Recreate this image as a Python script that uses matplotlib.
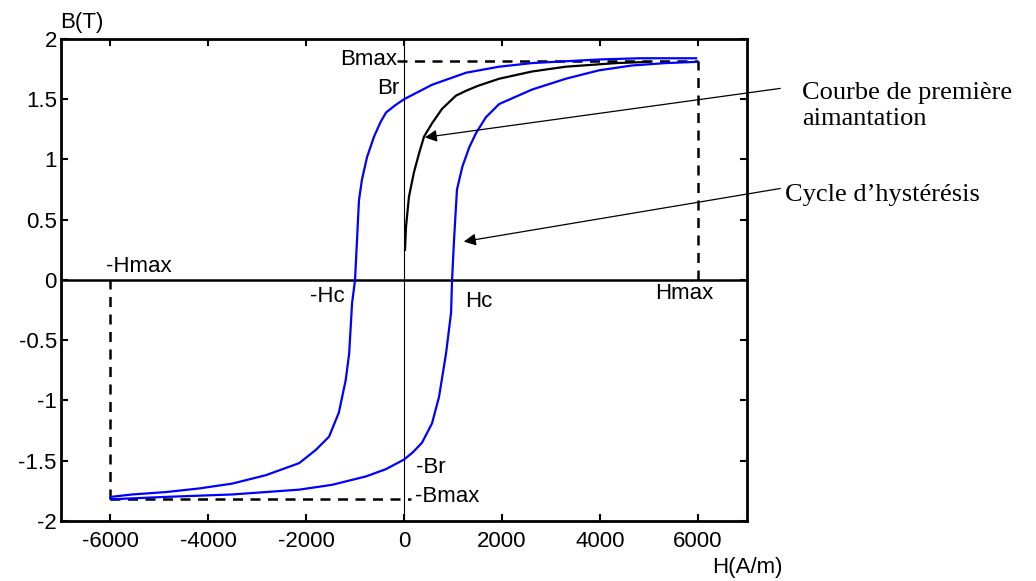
import matplotlib
matplotlib.use('Agg')
import matplotlib.pyplot as plt

plt.rcParams['font.family'] = ['Liberation Sans', 'DejaVu Sans']

# données
H_max = 6000
B_max = 1.82

# branche descendante du cycle (de +Hmax à -Hmax)
H_desc = [5960, 4800, 3980, 2610, 1940, 1265, 571, 0, -180, -367, -480, -612, -755, -860,
          -920, -960, -1000, -1060, -1120, -1190, -1330, -1530, -1800, -2140, -2820, -3510,
          -4180, -4860, -5550, -5980]
B_desc = [1.84, 1.84, 1.83, 1.80, 1.77, 1.72, 1.62, 1.50, 1.45, 1.39, 1.31, 1.19, 1.02, 0.83,
          0.66, 0.33, 0.0, -0.19, -0.61, -0.83, -1.10, -1.30, -1.41, -1.52, -1.62, -1.69,
          -1.73, -1.76, -1.78, -1.80]

# branche montante du cycle (de -Hmax à +Hmax)
H_asc = [-5980, -4860, -3510, -2140, -1470, -775, -370, 0, 180, 367, 571, 714, 857, 960, 980,
         1020, 1080, 1190, 1330, 1470, 1670, 1940, 2610, 3300, 3980, 4650, 5340, 5960]
B_asc = [-1.82, -1.80, -1.78, -1.74, -1.70, -1.63, -1.57, -1.49, -1.43, -1.35, -1.19, -0.97,
         -0.61, -0.27, 0.0, 0.33, 0.75, 0.94, 1.10, 1.22, 1.35, 1.46, 1.58, 1.67, 1.74, 1.78,
         1.80, 1.81]

# courbe de première aimantation
H_first = [20, 40, 100, 200, 306, 408, 571, 775, 1060, 1265, 1500, 1940, 2610, 3300, 4330, 5000]
B_first = [0.25, 0.44, 0.69, 0.89, 1.05, 1.19, 1.30, 1.42, 1.53, 1.57, 1.61, 1.67, 1.73, 1.77,
           1.80, 1.81]

x_ticks = [-6000, -4000, -2000, 0, 2000, 4000, 6000]
y_ticks = [-2, -1.5, -1, -0.5, 0, 0.5, 1, 1.5, 2]
y_ticklabels = ['-2', '-1.5', '-1', '-0.5', '0', '0.5', '1', '1.5', '2']

fig = plt.figure(figsize=(10.36, 5.81), dpi=100)
ax = fig.add_axes([0.0589, 0.1033, 0.6622, 0.8296])

# axes H=0 et B=0
ax.axhline(0, color='black', lw=1.8, zorder=1)
ax.axvline(0, color='black', lw=0.8, zorder=1)

# pointillés Bmax / Hmax
ax.plot([-150, H_max], [B_max, B_max], 'k--', lw=1.8, dashes=(4, 3))
ax.plot([H_max, H_max], [0, B_max], 'k--', lw=1.8, dashes=(4, 3))
ax.plot([-H_max, -H_max], [-B_max, 0], 'k--', lw=1.8, dashes=(4, 3))
ax.plot([-H_max, 150], [-B_max, -B_max], 'k--', lw=1.8, dashes=(4, 3))

# cycle et première aimantation
ax.plot(H_desc, B_desc, color='#0000ff', lw=1.6, zorder=3)
ax.plot(H_asc, B_asc, color='#0000ff', lw=1.6, zorder=3)
ax.plot(H_first, B_first, color='black', lw=1.6, zorder=3)

ax.set_xlim(-7000, 7000)
ax.set_ylim(-2, 2)
ax.set_xticks(x_ticks)
ax.set_xticklabels([str(v) for v in x_ticks])
ax.set_yticks(y_ticks)
ax.set_yticklabels(y_ticklabels)
ax.tick_params(direction='in', top=True, right=True, length=5, width=1.5, labelsize=16)
ax.tick_params(axis='x', pad=7)
ax.tick_params(axis='y', pad=3)
for s in ax.spines.values():
    s.set_linewidth(2)

# étiquettes
fs = 16
ax.text(-140, 1.83, 'Bmax', fontsize=fs, ha='right', va='center')
ax.text(-100, 1.59, 'Br', fontsize=fs, ha='right', va='center')
ax.text(-1570, -0.14, '-Hc', fontsize=fs, ha='center', va='center')
ax.text(1530, -0.18, 'Hc', fontsize=fs, ha='center', va='center')
ax.text(5710, -0.11, 'Hmax', fontsize=fs, ha='center', va='center')
ax.text(-5410, 0.11, '-Hmax', fontsize=fs, ha='center', va='center')
ax.text(245, -1.56, '-Br', fontsize=fs, ha='left', va='center')
ax.text(225, -1.80, '-Bmax', fontsize=fs, ha='left', va='center')

fig.text(0.058, 0.962, 'B(T)', fontsize=fs, ha='left', va='center')
fig.text(0.687, 0.024, 'H(A/m)', fontsize=fs, ha='left', va='center')

# flèches et commentaires
ax.annotate('', xy=(367, 1.18), xycoords='data',
            xytext=(0.7558, 0.8485), textcoords='figure fraction',
            arrowprops=dict(arrowstyle='-|>', color='black', lw=0.9, mutation_scale=18),
            annotation_clip=False)
ax.annotate('', xy=(1163, 0.315), xycoords='data',
            xytext=(0.7558, 0.6764), textcoords='figure fraction',
            arrowprops=dict(arrowstyle='-|>', color='black', lw=0.9, mutation_scale=18),
            annotation_clip=False)

fig.text(0.774, 0.8176, 'Courbe de première\naimantation', fontsize=19,
         family='Liberation Serif', ha='left', va='center', linespacing=1.2)
fig.text(0.7577, 0.664, 'Cycle d’hystérésis', fontsize=19,
         family='Liberation Serif', ha='left', va='center')

plt.savefig('out.png', dpi=100)
